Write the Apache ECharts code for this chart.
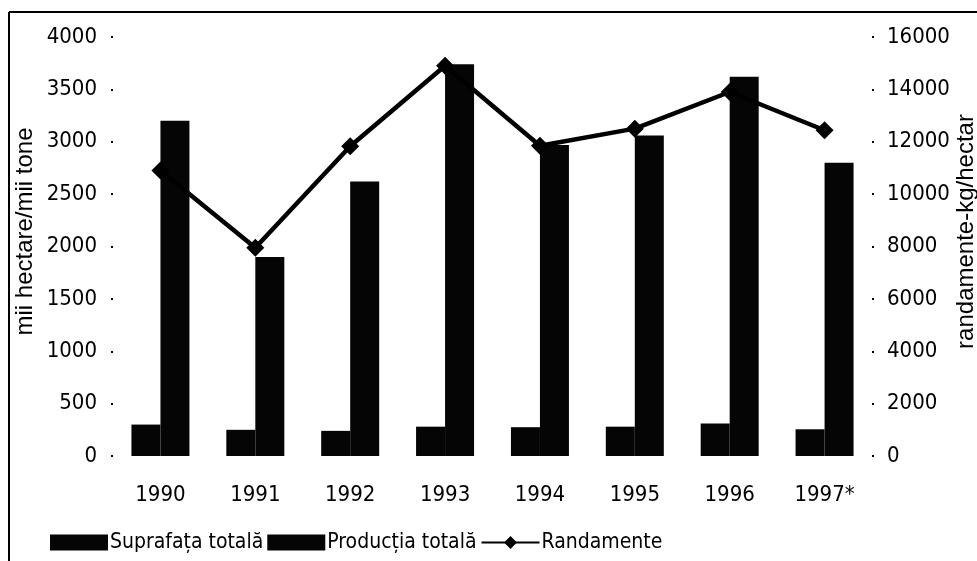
<!DOCTYPE html>
<html>
<head>
<meta charset="utf-8">
<script src="https://cdn.jsdelivr.net/npm/echarts@6/dist/echarts.min.js"></script>
<style>
html,body{margin:0;padding:0;background:#fff;}
#chart{width:977px;height:561px;}
</style>
</head>
<body>
<div id="chart"></div>
<script>
const categories = ['1990','1991','1992','1993','1994','1995','1996','1997*'];
const suprafata = [300, 250, 240, 280, 275, 280, 310, 255];
const productia = [3200, 1900, 2620, 3740, 2970, 3060, 3620, 2800];
const randamente = [10900, 7950, 11830, 14900, 11850, 12500, 13900, 12440];
const leftTicks = [0, 4000, 500];
const rightTicks = [0, 16000, 2000];

const NARROW = "'Liberation Sans Narrow', 'DejaVu Sans Condensed', Arial, sans-serif";
const ARIAL = "'Liberation Sans', Arial, sans-serif";
const plain = v => String(v);

const chart = echarts.init(document.getElementById('chart'), null, {renderer:'canvas'});
chart.setOption({
  backgroundColor: '#fff',
  animation: false,
  textStyle: {fontFamily: NARROW, color: '#000'},
  grid: {left: 113, right: 105, top: 37, bottom: 105, containLabel: false, outerBoundsMode: 'none'},
  graphic: [
    {type:'line', shape:{x1:9, y1:12, x2:977, y2:12}, style:{stroke:'#000', lineWidth:2}},
    {type:'line', shape:{x1:9, y1:12, x2:9, y2:561}, style:{stroke:'#000', lineWidth:2}}
  ],
  legend: {
    left: 45, top: 527,
    itemWidth: 58, itemHeight: 16, itemGap: 4,
    textStyle: {fontFamily: NARROW, fontSize: 21, color: '#000', padding:[0,0,0,-3]},
    data: [
      {name:'Suprafața totală', icon:'rect'},
      {name:'Producția totală', icon:'rect'},
      {name:'Randamente'}
    ]
  },
  xAxis: {
    type: 'category', data: categories,
    axisLine: {show:false}, axisTick: {show:false},
    axisLabel: {fontFamily: NARROW, fontSize: 22, color:'#000', margin: 28}
  },
  yAxis: [
    {
      type: 'value', min: leftTicks[0], max: leftTicks[1], interval: leftTicks[2],
      name: 'mii hectare/mii tone', nameLocation: 'middle', nameGap: 76, nameMoveOverlap: false,
      nameTextStyle: {fontFamily: ARIAL, fontSize: 24, color:'#000', padding:[0,0,0,30]},
      splitLine: {show:false}, axisLine: {show:false},
      axisTick: {show:true, length:2, lineStyle:{color:'#000', width:2}},
      axisLabel: {fontFamily: NARROW, fontSize: 22, color:'#000', margin: 16, formatter: plain}
    },
    {
      type: 'value', min: rightTicks[0], max: rightTicks[1], interval: rightTicks[2],
      name: 'randamente-kg/hectar', nameLocation: 'middle', nameGap: 82, nameMoveOverlap: false,
      nameTextStyle: {fontFamily: ARIAL, fontSize: 24, color:'#000', padding:[0,0,0,30]},
      splitLine: {show:false}, axisLine: {show:false},
      axisTick: {show:true, length:2, lineStyle:{color:'#000', width:2}},
      axisLabel: {fontFamily: NARROW, fontSize: 22, color:'#000', margin: 15, formatter: plain}
    }
  ],
  series: [
    {name:'Suprafața totală', type:'bar', data: suprafata, yAxisIndex:0,
     barWidth: 29, barGap: '0%', itemStyle:{color:'#050505'}},
    {name:'Producția totală', type:'bar', data: productia, yAxisIndex:0,
     barWidth: 29, barGap: '0%', itemStyle:{color:'#050505'}},
    {name:'Randamente', type:'line', data: randamente, yAxisIndex:1,
     symbol:'diamond', symbolSize: 18, lineStyle:{color:'#000', width:4.5},
     itemStyle:{color:'#000'}, z: 5}
  ]
});
</script>
</body>
</html>
